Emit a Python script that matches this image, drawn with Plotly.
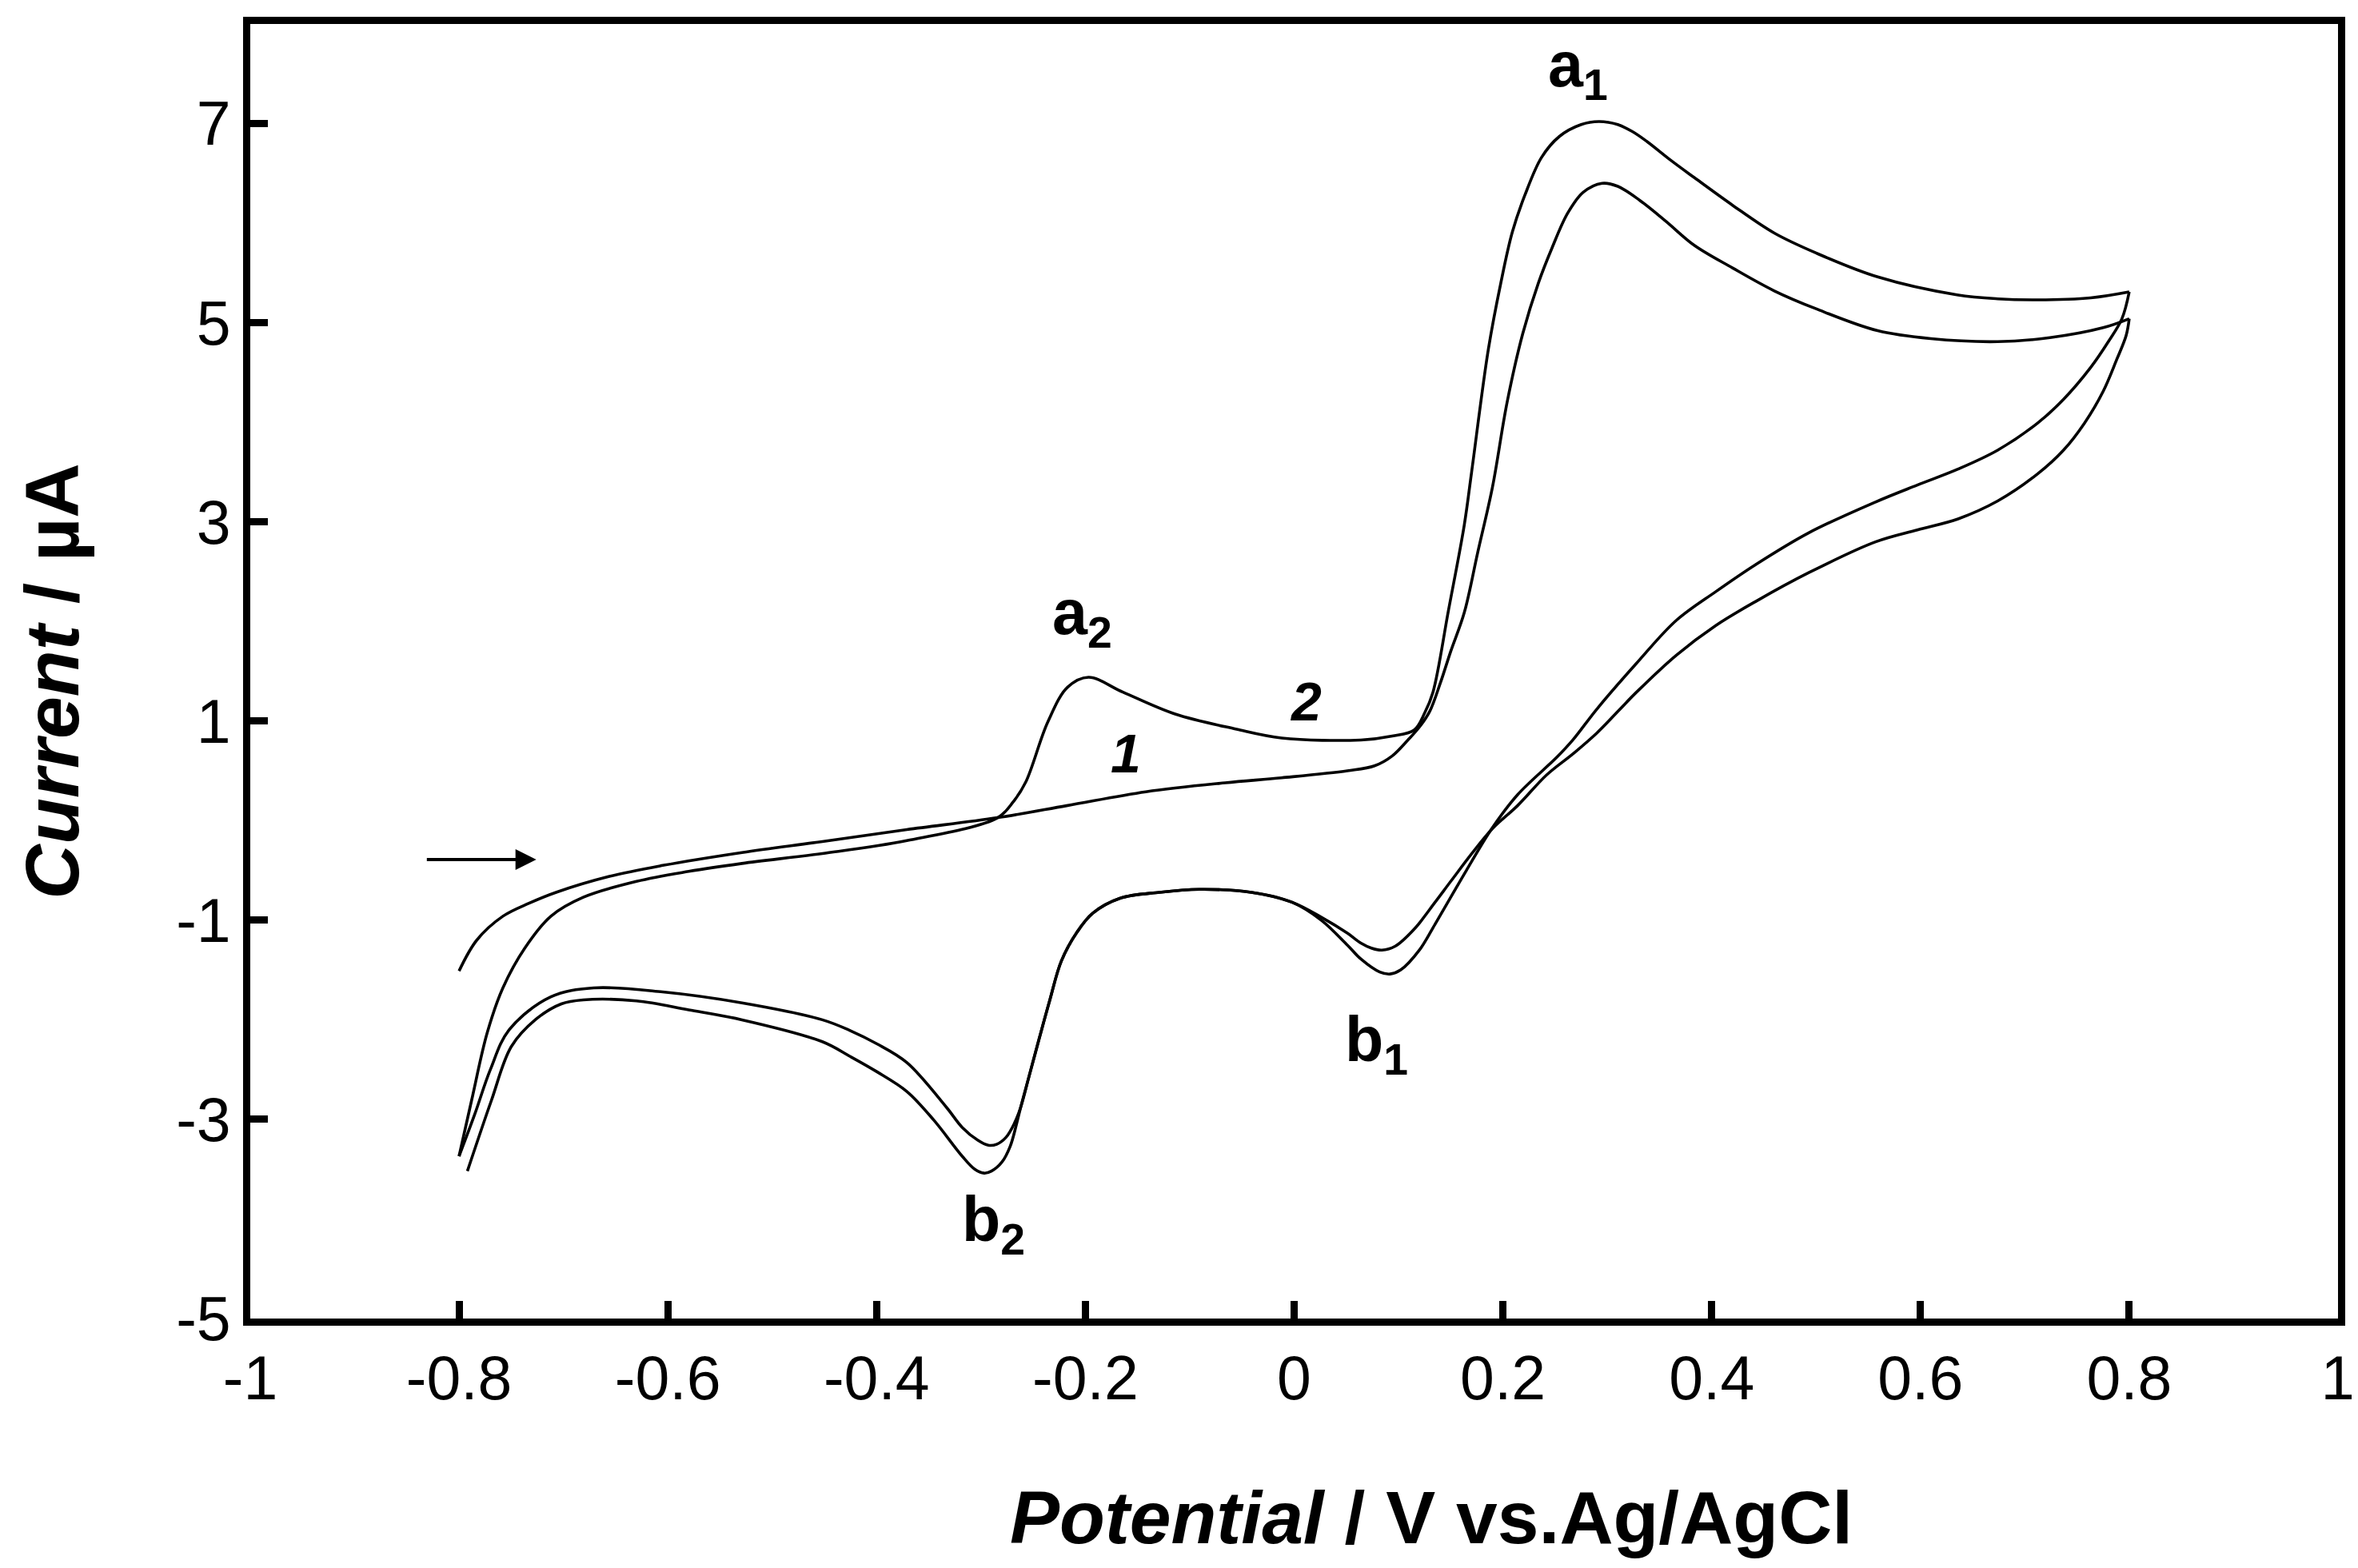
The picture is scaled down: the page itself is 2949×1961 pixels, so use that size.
import plotly.graph_objects as go

# ---------------- data ----------------
# cycle 1, forward scan (-0.8 V -> 0.8 V)
c1_fwd_E = [-0.800, -0.783, -0.758, -0.733, -0.707, -0.656, -0.605, -0.529, -0.452, -0.371,
            -0.284, -0.218, -0.142, -0.066, -0.012, 0.051, 0.077, 0.094, 0.109, 0.120,
            0.130, 0.140, 0.150, 0.163, 0.176, 0.190, 0.204, 0.219, 0.234, 0.247,
            0.262, 0.277, 0.295, 0.310, 0.331, 0.356, 0.383, 0.420, 0.460, 0.500,
            0.559, 0.610, 0.674, 0.724, 0.775, 0.800]
c1_fwd_I = [-1.51, -1.20, -0.96, -0.83, -0.72, -0.56, -0.45, -0.32, -0.21, -0.09,
            0.03, 0.15, 0.29, 0.38, 0.43, 0.50, 0.55, 0.65, 0.81, 0.94,
            1.10, 1.38, 1.70, 2.09, 2.70, 3.35, 4.20, 4.89, 5.40, 5.75,
            6.10, 6.31, 6.40, 6.37, 6.23, 6.02, 5.78, 5.55, 5.32, 5.14,
            4.92, 4.84, 4.81, 4.85, 4.95, 5.04]

# cycle 1, reverse scan (0.8 V -> -0.8 V)
c1_rev_E = [0.800, 0.797, 0.788, 0.775, 0.757, 0.737, 0.712, 0.674, 0.636, 0.597,
            0.557, 0.493, 0.442, 0.404, 0.366, 0.328, 0.290, 0.267, 0.242, 0.214,
            0.190, 0.171, 0.150, 0.135, 0.115, 0.097, 0.084, 0.074, 0.064, 0.051,
            0.026, -0.002, -0.041, -0.091, -0.129, -0.167, -0.193, -0.208, -0.223, -0.234,
            -0.244, -0.254, -0.262, -0.268, -0.276, -0.285, -0.293, -0.303, -0.318, -0.333,
            -0.371, -0.400, -0.425, -0.452, -0.529, -0.605, -0.671, -0.712, -0.752, -0.770,
            -0.785, -0.800]
c1_rev_I = [5.04, 4.87, 4.63, 4.31, 3.99, 3.72, 3.48, 3.21, 3.03, 2.92,
            2.80, 2.49, 2.20, 1.96, 1.66, 1.29, 0.88, 0.67, 0.46, 0.15,
            -0.08, -0.32, -0.61, -0.82, -1.09, -1.26, -1.30, -1.28, -1.23, -1.13,
            -0.97, -0.82, -0.72, -0.69, -0.72, -0.78, -0.93, -1.12, -1.41, -1.80,
            -2.18, -2.57, -2.88, -3.04, -3.18, -3.25, -3.26, -3.21, -3.08, -2.88,
            -2.43, -2.24, -2.11, -2.00, -1.83, -1.72, -1.68, -1.77, -2.10, -2.50,
            -2.95, -3.37]

# cycle 2, forward scan
c2_fwd_E = [-0.800, -0.788, -0.773, -0.758, -0.737, -0.712, -0.681, -0.630, -0.580, -0.529,
            -0.452, -0.371, -0.284, -0.269, -0.257, -0.236, -0.217, -0.197, -0.164, -0.114,
            -0.056, -0.012, 0.064, 0.094, 0.115, 0.125, 0.133, 0.148, 0.163, 0.170,
            0.186, 0.198, 0.209, 0.221, 0.237, 0.254, 0.275, 0.292, 0.310, 0.324,
            0.338, 0.361, 0.383, 0.420, 0.460, 0.500, 0.559, 0.635, 0.674, 0.712,
            0.763, 0.800]
c2_fwd_I = [-3.37, -2.81, -2.13, -1.68, -1.28, -0.96, -0.77, -0.61, -0.51, -0.43,
            -0.33, -0.20, 0.03, 0.19, 0.39, 0.99, 1.34, 1.44, 1.29, 1.07,
            0.92, 0.83, 0.81, 0.85, 0.91, 1.08, 1.29, 2.12, 2.97, 3.50,
            4.73, 5.40, 5.91, 6.28, 6.66, 6.87, 6.99, 7.02, 6.99, 6.92,
            6.82, 6.63, 6.46, 6.18, 5.90, 5.70, 5.46, 5.28, 5.24, 5.23,
            5.25, 5.31]

# cycle 2, reverse scan
c2_rev_E = [0.800, 0.793, 0.780, 0.763, 0.737, 0.712, 0.674, 0.636, 0.597, 0.557,
            0.493, 0.442, 0.404, 0.366, 0.328, 0.290, 0.267, 0.252, 0.214, 0.190,
            0.165, 0.150, 0.135, 0.120, 0.102, 0.092, 0.082, 0.064, 0.051, 0.026,
            -0.002, -0.041, -0.091, -0.129, -0.167, -0.193, -0.208, -0.223, -0.234, -0.244,
            -0.254, -0.262, -0.266, -0.272, -0.280, -0.290, -0.297, -0.306, -0.318, -0.345,
            -0.371, -0.400, -0.425, -0.452, -0.529, -0.580, -0.630, -0.681, -0.702, -0.727,
            -0.750, -0.769, -0.792]
c2_rev_I = [5.31, 5.04, 4.81, 4.55, 4.23, 3.99, 3.72, 3.53, 3.37, 3.20,
            2.89, 2.57, 2.30, 2.01, 1.58, 1.12, 0.81, 0.64, 0.26, -0.07,
            -0.50, -0.77, -1.04, -1.30, -1.50, -1.54, -1.52, -1.39, -1.25, -1.00,
            -0.82, -0.72, -0.69, -0.72, -0.78, -0.93, -1.12, -1.41, -1.80, -2.18,
            -2.57, -2.88, -3.05, -3.27, -3.43, -3.52, -3.54, -3.50, -3.37, -3.01,
            -2.72, -2.52, -2.37, -2.22, -2.00, -1.90, -1.81, -1.80, -1.84, -2.00,
            -2.27, -2.81, -3.52]

x_ticks = [-1, -0.8, -0.6, -0.4, -0.2, 0, 0.2, 0.4, 0.6, 0.8, 1]
x_tick_text = ["-1", "-0.8", "-0.6", "-0.4", "-0.2", "0", "0.2", "0.4", "0.6", "0.8", "1"]
y_ticks = [-5, -3, -1, 1, 3, 5, 7]
y_tick_text = ["-5", "-3", "-1", "1", "3", "5", "7"]

# peak labels: (text, E, I)
peak_labels = [("a<sub>1</sub>", 0.272, 7.55),
               ("a<sub>2</sub>", -0.203, 2.05),
               ("b<sub>1</sub>", 0.079, -2.24),
               ("b<sub>2</sub>", -0.288, -4.05)]
cycle_labels = [("1", -0.161, 0.68), ("2", 0.011, 1.20)]
arrow_start = (-0.832, -0.39)
arrow_end = (-0.726, -0.39)

# ---------------- figure ----------------
FONT = "Liberation Sans, Arial, sans-serif"
line_style = dict(color="black", width=3.6, shape="spline", smoothing=1.0)

fig = go.Figure()
for E, I in [(c1_fwd_E, c1_fwd_I), (c1_rev_E, c1_rev_I),
             (c2_fwd_E, c2_fwd_I), (c2_rev_E, c2_rev_I)]:
    fig.add_trace(go.Scatter(x=E, y=I, mode="lines", line=line_style,
                             showlegend=False, hoverinfo="skip"))

axis_common = dict(showgrid=False, zeroline=False, showline=True, linewidth=9,
                   linecolor="black", mirror=True, ticks="inside", ticklen=22,
                   tickwidth=9, tickcolor="black", ticklabeloverflow="allow",
                   tickfont=dict(family=FONT, size=77, color="black"))

fig.update_xaxes(range=[-1, 1], tickmode="array", tickvals=x_ticks,
                 ticktext=x_tick_text, **axis_common)
fig.update_yaxes(range=[-5, 8], tickmode="array", tickvals=y_ticks,
                 ticktext=y_tick_text, **axis_common)

annotations = []
for txt, ex, iy in peak_labels:
    annotations.append(dict(x=ex, y=iy, xref="x", yref="y", text="<b>" + txt + "</b>",
                            showarrow=False, xanchor="center", yanchor="middle",
                            font=dict(family=FONT, size=79, color="black")))
for txt, ex, iy in cycle_labels:
    annotations.append(dict(x=ex, y=iy, xref="x", yref="y", text="<b><i>" + txt + "</i></b>",
                            showarrow=False, xanchor="center", yanchor="middle",
                            font=dict(family=FONT, size=68, color="black")))
annotations.append(dict(x=arrow_end[0], y=arrow_end[1], ax=arrow_start[0], ay=arrow_start[1],
                        xref="x", yref="y", axref="x", ayref="y", text="",
                        showarrow=True, arrowhead=2, arrowsize=1.3, arrowwidth=4,
                        arrowcolor="black"))
annotations.append(dict(x=0.5658, y=-0.1538, xref="paper", yref="paper",
                        text="<b><i>Potential</i> / V vs.Ag/AgCl</b>", showarrow=False,
                        xanchor="center", yanchor="middle",
                        font=dict(family=FONT, size=93, color="black")))
annotations.append(dict(x=-0.0948, y=0.4928, xref="paper", yref="paper",
                        text="<b><i>Current</i> / µA</b>", showarrow=False, textangle=-90,
                        xanchor="center", yanchor="middle",
                        font=dict(family=FONT, size=95, color="black")))

fig.update_layout(width=2949, height=1961, autosize=False,
                  margin=dict(l=305, r=21, t=22, b=320, pad=0),
                  paper_bgcolor="white", plot_bgcolor="white",
                  annotations=annotations, showlegend=False)

fig.write_html("out.html")
